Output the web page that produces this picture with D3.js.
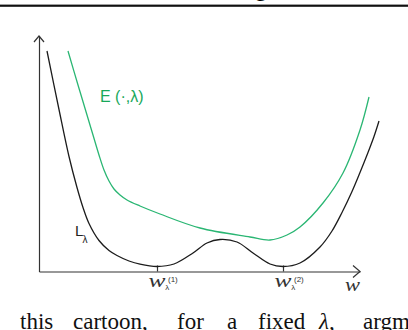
<!DOCTYPE html>
<meta charset="utf-8">
<style>
  body { margin: 0; background: #fff; }
  svg { display: block; }
  .curve { fill: none; stroke-width: 1.3; }
  .loss { stroke: #1c1c1c; }
  .energy { stroke: #2ab673; }
  .axis path, .axis line { stroke: #333; stroke-width: 1.2; }
  .arrow { fill: none; stroke: #333; stroke-width: 1.2; }
  .sans { font-family: "Liberation Sans", Arial, sans-serif; }
  .serif { font-family: "Liberation Serif", "Times New Roman", serif; }
</style>
<body>
<script src="https://d3js.org/d3.v7.min.js"></script>
<script>

// traced from the cartoon: position along w, height above the w axis
var lossW = [8, 20, 30, 38, 44, 50, 60, 70, 78, 90, 101, 118, 135, 154, 168, 181, 198, 214, 231, 244, 261, 281, 293, 303, 313, 321, 329, 335, 340];
var lossV = [220.5, 162, 115, 84, 64, 48, 31, 21, 16, 10.5, 7.3, 5, 7.5, 18.5, 28.5, 32, 29.5, 18.5, 7.5, 5, 8.5, 24.5, 40.5, 59, 80, 99, 119, 135, 150.5];

var energyW = [29, 39, 48, 54, 60, 65, 70, 75, 81, 88, 101, 121, 161, 211, 231, 248, 261, 284, 304, 321, 330];
var energyV = [220.5, 186.5, 156.5, 136.5, 116.5, 101.5, 90.5, 82.5, 76.5, 71.5, 65.5, 57.5, 43.5, 34.5, 31.5, 36.5, 44.5, 68.5, 98.5, 141.5, 174.5];

// the two minima of L marked on the w axis
var tickW = [118, 244];
var tickSup = ["(1)", "(2)"];

// caption words under the figure and where they start
var captionWords = ["this", "cartoon,", "for", "a", "fixed", "λ,", "argm"];
var captionX = [20, 73, 177, 227, 258, 319, 363];

var width = 408, height = 330;

var svg = d3.select("body").append("svg")
    .attr("width", width)
    .attr("height", height);

var x = d3.scaleLinear().domain([0, 321]).range([39, 360]);
var y = d3.scaleLinear().domain([0, 235.5]).range([271.5, 36]);

// top rule of the page
svg.append("rect")
    .attr("x", 0).attr("y", 4.6)
    .attr("width", width).attr("height", 2.2)
    .attr("fill", "#111");
svg.append("text")
    .attr("class", "serif")
    .attr("x", 255).attr("y", -3.8)
    .style("font-size", "23px")
    .text("g");

// axes
svg.append("g")
    .attr("class", "axis")
    .attr("transform", "translate(0," + y(0) + ")")
    .call(d3.axisBottom(x).tickValues(tickW).tickSize(-6).tickSizeOuter(0).tickFormat(""))
    .selectAll(".tick line").attr("stroke", "#555");

svg.append("g")
    .attr("class", "axis")
    .attr("transform", "translate(" + x(0) + ",0)")
    .call(d3.axisLeft(y).tickValues([]).tickSizeOuter(0));

// open arrow heads
svg.append("path")
    .attr("class", "arrow")
    .attr("d", "M" + (x(321) - 7) + "," + (y(0) - 6) + "L" + x(321) + "," + y(0) + "L" + (x(321) - 7) + "," + (y(0) + 6));
svg.append("path")
    .attr("class", "arrow")
    .attr("d", "M" + (x(0) - 5) + "," + (y(235.5) + 6) + "L" + x(0) + "," + y(235.5) + "L" + (x(0) + 5) + "," + (y(235.5) + 6));

// curves
var line = d3.line()
    .x(function(d) { return x(d[0]); })
    .y(function(d) { return y(d[1]); })
    .curve(d3.curveCatmullRom.alpha(0.5));

svg.append("path")
    .datum(d3.zip(energyW, energyV))
    .attr("class", "curve energy")
    .attr("d", line);

svg.append("path")
    .datum(d3.zip(lossW, lossV))
    .attr("class", "curve loss")
    .attr("d", line);

// curve labels
svg.append("text")
    .attr("class", "sans")
    .attr("x", 100).attr("y", 102)
    .attr("fill", "#17a85a")
    .style("font-size", "16px")
    .text("E (·,λ)");

svg.append("text")
    .attr("class", "sans")
    .attr("x", 75).attr("y", 235.7)
    .attr("fill", "#222")
    .style("font-size", "15px")
    .text("L");
svg.append("text")
    .attr("class", "sans")
    .attr("x", 82.5).attr("y", 243)
    .attr("fill", "#222")
    .style("font-size", "10px")
    .text("λ");

// tick labels w_λ^(k)
tickW.forEach(function(t, i) {
  var tx = x(t);
  svg.append("text")
      .attr("class", "serif")
      .attr("x", tx - 8.5).attr("y", 287)
      .attr("textLength", 17).attr("lengthAdjust", "spacingAndGlyphs")
      .attr("fill", "#333")
      .style("font-size", "18px").style("font-style", "italic")
      .text("w");
  svg.append("text")
      .attr("class", "sans")
      .attr("x", tx + 8.3).attr("y", 289.5)
      .attr("fill", "#333")
      .style("font-size", "8px")
      .text("λ");
  svg.append("text")
      .attr("class", "sans")
      .attr("x", tx + 11).attr("y", 281.5)
      .attr("fill", "#333")
      .style("font-size", "8px")
      .text(tickSup[i]);
});

// axis name
svg.append("text")
    .attr("class", "serif")
    .attr("x", 345).attr("y", 291)
    .attr("textLength", 15).attr("lengthAdjust", "spacingAndGlyphs")
    .attr("fill", "#333")
    .style("font-size", "18px").style("font-style", "italic")
    .text("w");

// caption line of the paper below the figure
svg.selectAll(".caption")
    .data(captionWords)
  .enter().append("text")
    .attr("class", "caption serif")
    .attr("x", function(d, i) { return captionX[i]; })
    .attr("y", 328.5)
    .attr("fill", "#111")
    .style("font-size", "23px")
    .style("font-style", function(d) { return d === "λ," ? "italic" : "normal"; })
    .text(function(d) { return d; });

</script>
</body>
